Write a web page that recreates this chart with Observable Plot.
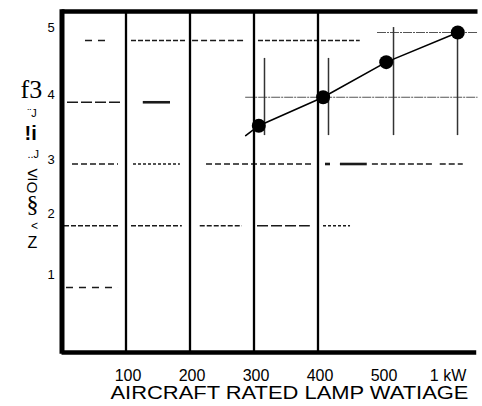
<!DOCTYPE html>
<html>
<head>
<meta charset="utf-8">
<script src="https://cdn.jsdelivr.net/npm/d3@7"></script>
<script src="https://cdn.jsdelivr.net/npm/@observablehq/plot@0.6"></script>
<style>
  html, body { margin: 0; padding: 0; background: #fff; }
  svg { display: block; }
</style>
</head>
<body>
<div id="chart"></div>
<script>
// ---- data ----
const xTickValues = [100, 200, 300, 400, 500, 600];
const xTickLabels = ["100", "200", "300", "400", "500", "1 kW"];
const yTickPos = [1.0, 2.0, 2.86, 3.92, 5.0];
const yTickLabels = ["1", "2", "3", "4", "5"];
const dividers = [100, 200, 300, 400];

const pointW = [307.5, 408, 506.6, 618.4];
const pointV = [3.42, 3.88, 4.45, 4.93];
const curveW = [287, 307.5, 408, 506.6, 618.4];
const curveV = [3.26, 3.42, 3.88, 4.45, 4.93];

const barW = [316.4, 416.4, 518, 618];
const barLow = [3.26, 3.26, 3.26, 3.26];
const barHigh = [4.51, 4.51, 5.01, 4.93];

const refLevel = [3.88, 4.93];
const refStart = [287, 493];
const refEnd = [650, 650];

const segLevel = [4.8, 4.8, 4.8, 4.8, 3.8, 3.8, 2.8, 2.8, 2.8, 2.8, 2.8, 2.8, 2.8, 1.8, 1.8, 1.8, 1.8, 1.8, 0.8];
const segStart = [36.7, 108.6, 204, 307, 8.6, 127, 16.4, 111.7, 225.8, 411.7, 435, 485, 591, 3.9, 108.6, 216, 305.5, 408.6, 7];
const segEnd   = [68, 193, 286.7, 466, 91.4, 169.5, 88.3, 185, 393, 419.5, 477, 580, 627, 88.3, 188, 282, 388, 450.8, 88.3];
const segKind  = ["sparse", "short", "dash", "short", "long", "solid", "dash", "dot", "dash", "solid", "solid", "dash", "dash", "short", "short", "short", "long", "dot", "sparse"];

const xTitle = "AIRCRAFT RATED LAMP WATIAGE";

// ---- tables ----
const points = pointW.map((w, i) => ({w, v: pointV[i]}));
const curve = curveW.map((w, i) => ({w, v: curveV[i]}));
const bars = barW.map((w, i) => ({w, lo: barLow[i], hi: barHigh[i]}));
const refs = refLevel.map((v, i) => ({v, a: refStart[i], b: refEnd[i]}));
const segs = segLevel.map((v, i) => ({v, a: segStart[i], b: segEnd[i], kind: segKind[i]}));

const kindStyle = {
  sparse: {strokeDasharray: "7,6", strokeWidth: 1.6},
  short:  {strokeDasharray: "5,2", strokeWidth: 1.6},
  dash:   {strokeDasharray: "6,3", strokeWidth: 1.6},
  long:   {strokeDasharray: "11,3", strokeWidth: 1.6},
  dot:    {strokeDasharray: "3,2", strokeWidth: 1.4},
  solid:  {strokeDasharray: null, strokeWidth: 2.6}
};

const xDomain = [0, 650];
const yDomain = [-0.253, 5.27];

const segMarks = Object.keys(kindStyle).map(k =>
  Plot.ruleY(segs.filter(d => d.kind === k), {
    y: "v", x1: "a", x2: "b", stroke: "#1a1a1a",
    strokeWidth: kindStyle[k].strokeWidth,
    strokeDasharray: kindStyle[k].strokeDasharray || undefined
  })
);

const sans = "Liberation Sans, Arial, Helvetica, sans-serif";
const serif = "Liberation Serif, Times New Roman, serif";

const chart = Plot.plot({
  width: 482,
  height: 406,
  marginTop: 0, marginBottom: 0, marginLeft: 0, marginRight: 0,
  style: {fontFamily: sans, background: "#fff", color: "#000"},
  x: {domain: xDomain, range: [61.5, 477.5], axis: null},
  y: {domain: yDomain, range: [352, 11], axis: null},
  marks: [
    ...segMarks,
    // thin reference lines
    Plot.ruleY(refs, {y: "v", x1: "a", x2: "b", stroke: "#555", strokeWidth: 1.1, strokeDasharray: "9,1,2,1"}),
    // vertical dividers
    Plot.ruleX(dividers, {x: d => d, y1: yDomain[0], y2: yDomain[1], stroke: "#000", strokeWidth: 2.3}),
    // error bars
    Plot.ruleX(bars, {x: "w", y1: "lo", y2: "hi", stroke: "#333", strokeWidth: 1.5}),
    // curve
    Plot.line(curve, {x: "w", y: "v", stroke: "#000", strokeWidth: 1.6}),
    Plot.dot(points, {x: "w", y: "v", r: 7, fill: "#000", stroke: "none"}),
    // frame
    Plot.ruleX([xDomain[0]], {x: d => d, y1: yDomain[0] - 0.03, y2: yDomain[1] + 0.03, stroke: "#000", strokeWidth: 5}),
    Plot.ruleY([yDomain[1]], {y: d => d, x1: xDomain[0], x2: xDomain[1], stroke: "#000", strokeWidth: 4.5}),
    Plot.ruleY([yDomain[0]], {y: d => d, x1: xDomain[0], x2: xDomain[1] - 2, stroke: "#000", strokeWidth: 4.5}),
    // y tick labels
    Plot.text(yTickLabels, {x: () => xDomain[0], y: (d, i) => yTickPos[i], dx: -11, textAnchor: "middle", fontSize: 13, fill: "#000"}),
    // x tick labels
    Plot.text(xTickLabels, {x: (d, i) => xTickValues[i], frameAnchor: "bottom", lineAnchor: "bottom", dy: -26, dx: 2, textAnchor: "middle", fontSize: 16, fill: "#000"}),
    // x title
    Plot.text([xTitle], {frameAnchor: "bottom-left", textAnchor: "start", lineAnchor: "bottom", dx: 110, dy: -8, fontSize: 18, fill: "#000"}),
    // garbled y label fragments
    Plot.text(["f3"], {frameAnchor: "top-left", textAnchor: "start", lineAnchor: "bottom", dx: 20, dy: 97, fontSize: 26, fontFamily: serif, fill: "#000"}),
    Plot.text(["¨J"], {frameAnchor: "top-left", textAnchor: "start", lineAnchor: "bottom", dx: 27, dy: 116, fontSize: 11, fill: "#000"}),
    Plot.text(["!i"], {frameAnchor: "top-left", textAnchor: "start", lineAnchor: "bottom", dx: 24, dy: 139, fontSize: 20, fontWeight: "bold", fill: "#000"}),
    Plot.text(["..J"], {frameAnchor: "top-left", textAnchor: "start", lineAnchor: "bottom", dx: 27, dy: 157, fontSize: 11, fill: "#000"}),
    Plot.text(["≤"], {frameAnchor: "top-left", textAnchor: "middle", lineAnchor: "bottom", dx: 32, dy: 179, fontSize: 19, fill: "#000"}),
    Plot.text(["O"], {frameAnchor: "top-left", textAnchor: "middle", lineAnchor: "middle", dx: 32, dy: 187, fontSize: 15, rotate: -90, fill: "#000"}),
    Plot.text(["§"], {frameAnchor: "top-left", textAnchor: "middle", lineAnchor: "bottom", dx: 32, dy: 211, fontSize: 24, fontFamily: serif, fill: "#000"}),
    Plot.text(["<"], {frameAnchor: "top-left", textAnchor: "middle", lineAnchor: "bottom", dx: 34, dy: 229, fontSize: 12, fill: "#000"}),
    Plot.text(["Z"], {frameAnchor: "top-left", textAnchor: "middle", lineAnchor: "bottom", dx: 32, dy: 247, fontSize: 16, fill: "#000"})
  ]
});

d3.select(chart).selectAll("text")
  .filter(function() { return this.textContent === xTitle; })
  .attr("textLength", 358)
  .attr("lengthAdjust", "spacingAndGlyphs");

document.getElementById("chart").appendChild(chart);
</script>
</body>
</html>
